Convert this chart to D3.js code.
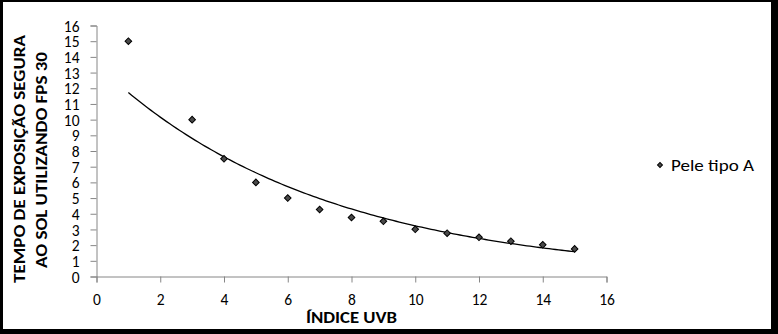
<!DOCTYPE html>
<html>
<head>
<meta charset="utf-8">
<script src="https://cdn.jsdelivr.net/npm/d3@7"></script>
<style>
  html, body { margin: 0; padding: 0; background: #000; }
  svg { display: block; }
</style>
</head>
<body>
<svg id="chart" width="778" height="334"></svg>
<script>
// ---- data ----
const uvbIndex = [1, 3, 4, 5, 6, 7, 8, 9, 10, 11, 12, 13, 14, 15];
const exposureTime = [15, 10, 7.5, 6, 5, 4.27, 3.76, 3.52, 3.01, 2.76, 2.5, 2.25, 2.02, 1.76];
const xTicks = [0, 2, 4, 6, 8, 10, 12, 14, 16];
const yTicks = [0, 1, 2, 3, 4, 5, 6, 7, 8, 9, 10, 11, 12, 13, 14, 15, 16];
const seriesName = "Pele tipo A";
const xTitle = "ÍNDICE UVB";
const yTitleLines = ["TEMPO DE EXPOSIÇÃO SEGURA", "AO SOL UTILIZANDO FPS 30"];

// ---- layout ----
const svg = d3.select("#chart");
svg.append("rect").attr("x", 3).attr("y", 2).attr("width", 768).attr("height", 327).attr("fill", "#fff");

const x = d3.scaleLinear().domain([0, 16]).range([96.5, 606.5]);
const y = d3.scaleLinear().domain([0, 16]).range([276.5, 25.5]);
const font = "Calibri, Carlito, Lato, 'Open Sans', sans-serif";
const axisColor = "#868686";

// x axis
const xAxis = svg.append("g").attr("transform", `translate(0,${y(0)})`)
  .call(d3.axisBottom(x).tickValues(xTicks).tickSize(6).tickPadding(11));
// y axis
const yAxis = svg.append("g").attr("transform", `translate(${x(0)},0)`)
  .call(d3.axisLeft(y).tickValues(yTicks).tickSize(6).tickPadding(11));
[xAxis, yAxis].forEach(g => {
  g.select(".domain").attr("stroke", axisColor).attr("stroke-width", 1);
  g.selectAll(".tick line").attr("stroke", axisColor);
  g.selectAll(".tick text").attr("fill", "#000").style("font-family", font).style("font-size", "15.5px");
});
xAxis.selectAll(".tick text").attr("dy", "0.71em");
yAxis.selectAll(".tick text").attr("dy", "0.36em");

// exponential trendline (least squares on ln y, as in spreadsheet)
const lnY = exposureTime.map(Math.log);
const mx = d3.mean(uvbIndex), my = d3.mean(lnY);
const b = d3.sum(uvbIndex, (v, i) => (v - mx) * (lnY[i] - my)) / d3.sum(uvbIndex, v => (v - mx) ** 2);
const a = Math.exp(my - b * mx);
const xs = d3.range(d3.min(uvbIndex), d3.max(uvbIndex) + 0.001, 0.1);
svg.append("path")
  .attr("d", d3.line().x(d => x(d)).y(d => y(a * Math.exp(b * d)))(xs))
  .attr("fill", "none").attr("stroke", "#000").attr("stroke-width", 1.3);

// points
svg.append("g").selectAll("path").data(uvbIndex).join("path")
  .attr("d", d3.symbol().type(d3.symbolSquare).size(22))
  .attr("transform", (d, i) => `translate(${x(d)},${y(exposureTime[i])}) rotate(45)`)
  .attr("fill", "#4a4a4a").attr("stroke", "#000").attr("stroke-width", 1);

// axis titles
svg.append("text").attr("x", 351.5).attr("y", 323).attr("text-anchor", "middle")
  .attr("textLength", 91).attr("lengthAdjust", "spacingAndGlyphs")
  .style("font-family", font).style("font-weight", "bold").style("font-size", "16px")
  .text(xTitle);
const yt = svg.append("text").attr("transform", "translate(0,159) rotate(-90)")
  .attr("text-anchor", "middle")
  .style("font-family", font).style("font-weight", "bold").style("font-size", "16.5px");
const yLens = [248, 216];
yTitleLines.forEach((t, i) => {
  yt.append("tspan").attr("x", i === 0 ? 0 : -1).attr("y", 25 + i * 22)
    .attr("textLength", yLens[i]).attr("lengthAdjust", "spacingAndGlyphs").text(t);
});

// legend
svg.append("path").attr("d", d3.symbol().type(d3.symbolSquare).size(12))
  .attr("transform", "translate(660,165) rotate(45)")
  .attr("fill", "#4a4a4a").attr("stroke", "#000").attr("stroke-width", 1);
svg.append("text").attr("x", 671).attr("y", 170.5)
  .attr("textLength", 83).attr("lengthAdjust", "spacingAndGlyphs")
  .style("font-family", font).style("font-size", "16px").text(seriesName);
</script>
</body>
</html>
